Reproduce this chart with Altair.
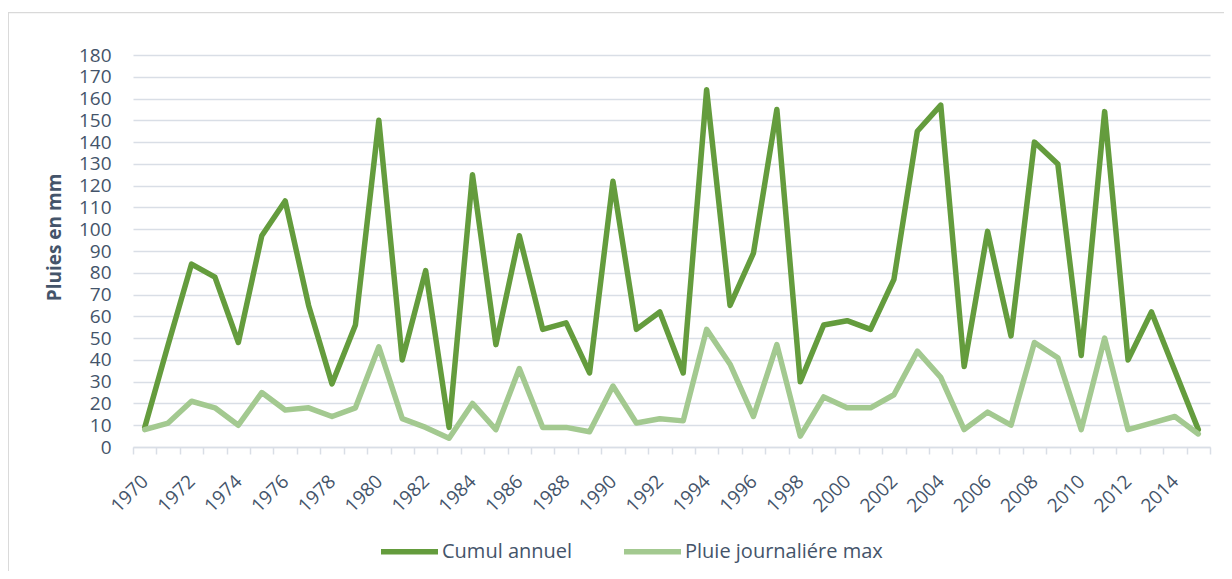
import altair as alt
import pandas as pd

years = [1970, 1971, 1972, 1973, 1974, 1975, 1976, 1977, 1978, 1979,
         1980, 1981, 1982, 1983, 1984, 1985, 1986, 1987, 1988, 1989,
         1990, 1991, 1992, 1993, 1994, 1995, 1996, 1997, 1998, 1999,
         2000, 2001, 2002, 2003, 2004, 2005, 2006, 2007, 2008, 2009,
         2010, 2011, 2012, 2013, 2014, 2015]

cumul_annuel = [9, 47, 84, 78, 48, 97, 113, 65, 29, 56,
                150, 40, 81, 9, 125, 47, 97, 54, 57, 34,
                122, 54, 62, 34, 164, 65, 89, 155, 30, 56,
                58, 54, 77, 145, 157, 37, 99, 51, 140, 130,
                42, 154, 40, 62, 35, 8]

pluie_journaliere_max = [8, 11, 21, 18, 10, 25, 17, 18, 14, 18,
                         46, 13, 9, 4, 20, 8, 36, 9, 9, 7,
                         28, 11, 13, 12, 54, 38, 14, 47, 5, 23,
                         18, 18, 24, 44, 32, 8, 16, 10, 48, 41,
                         8, 50, 8, 11, 14, 6]

series_names = ["Cumul annuel", "Pluie journaliére max"]
series_colors = ["#649C3D", "#A3C990"]
y_ticks = list(range(0, 181, 10))

rows = []
for i, yr in enumerate(years):
    rows.append({"year": yr, "serie": series_names[0], "value": cumul_annuel[i]})
    rows.append({"year": yr, "serie": series_names[1], "value": pluie_journaliere_max[i]})
df = pd.DataFrame(rows)

text_color = "#44546A"
grid_color = "#D9DEE6"
font = "Open Sans"

border = alt.Chart(pd.DataFrame({"k": [0]})).mark_rect(
    fill="transparent", stroke="#D9D9D9", strokeWidth=1.3
).encode(
    x=alt.value(-124.7), x2=alt.value(1300),
    y=alt.value(-42.3), y2=alt.value(700)
)

lines = alt.Chart(df).mark_line(
    strokeWidth=5.5, strokeJoin="round", strokeCap="round"
).encode(
    x=alt.X(
        "year:O",
        scale=alt.Scale(type="band", paddingInner=0, paddingOuter=0),
        axis=alt.Axis(
            title=None, labelAngle=315, labelAlign="right", labelBaseline="middle",
            labelExpr="datum.value % 2 == 0 ? datum.label : ''",
            labelFont=font, labelFontSize=19, labelColor=text_color,
            labelPadding=24, labelOverlap=False, labelBound=False,
            tickBand="extent", ticks=True, tickSize=7, tickColor=grid_color,
            tickWidth=1.5, domainColor=grid_color, domainWidth=1.5, grid=False,
        ),
    ),
    y=alt.Y(
        "value:Q",
        scale=alt.Scale(domain=[0, 180], nice=False),
        axis=alt.Axis(
            values=y_ticks, title="Pluies en mm", titleFont=font, titleFontSize=19,
            titleFontWeight="bold", titleColor=text_color, titleAngle=270,
            titleX=-73, titleY=182, titleAlign="center", titleBaseline="alphabetic",
            labelFont=font, labelFontSize=19, labelColor=text_color, labelPadding=22,
            ticks=False, domain=False, grid=True, gridColor=grid_color, gridWidth=1.5,
        ),
    ),
    color=alt.Color(
        "serie:N",
        scale=alt.Scale(domain=series_names, range=series_colors),
        legend=alt.Legend(
            title=None, orient="none", legendX=245, legendY=465,
            direction="horizontal", symbolType="stroke", symbolSize=3249,
            symbolStrokeWidth=5.5, labelFont=font, labelFontSize=20,
            labelColor=text_color, labelOffset=1, columnPadding=40, labelLimit=0,
        ),
    ),
)

chart = alt.layer(border, lines).properties(
    width=1077,
    height=392,
    padding={"left": 125, "top": 47, "right": 14, "bottom": 124},
    autosize=alt.AutoSizeParams(type="none"),
    background="white",
).configure_view(strokeWidth=0)

chart.save("out.html", embed_options={"renderer": "svg", "actions": False})
